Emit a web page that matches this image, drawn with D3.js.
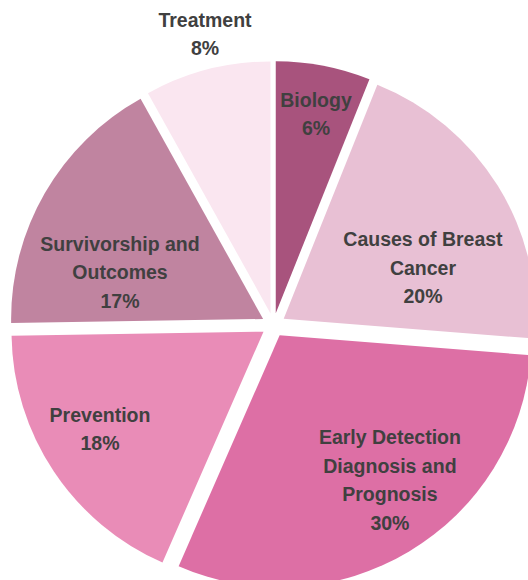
<!DOCTYPE html>
<html><head><meta charset="utf-8">
<script src="https://cdn.jsdelivr.net/npm/d3@7"></script>
<style>html,body{margin:0;padding:0;background:#fff;}svg{display:block;}</style>
</head><body>
<script>
const categories = ["Biology", "Causes of Breast Cancer", "Early Detection Diagnosis and Prognosis", "Prevention", "Survivorship and Outcomes", "Treatment"];
const values = [6, 20, 30, 18, 17, 8];
const labelLines = [["Biology"], ["Causes of Breast", "Cancer"], ["Early Detection", "Diagnosis and", "Prognosis"], ["Prevention"], ["Survivorship and", "Outcomes"], ["Treatment"]];
const colors = ["#A8537D", "#E8C0D4", "#DD6FA5", "#E98CB7", "#C084A0", "#FAE6F0"];
// label placement (polar: degrees clockwise from top, distance from centre in px)
const labelAngle = [11.4, 69.1, 143.1, 239.06, 289.05, 346.75];
const labelDist = [215.2, 160, 193.9, 202.3, 162.4, 299];

const W = 528, H = 580, cx = 273.5, cy = 325, R = 252, explode = 12;
const svg = d3.select("body").append("svg").attr("width", W).attr("height", H);
const pie = d3.pie().sort(null).value(d => d)(values);
const arc = d3.arc().innerRadius(0).outerRadius(R);
const g = svg.append("g").attr("transform", `translate(${cx},${cy})`);

g.selectAll("path").data(pie).join("path")
  .attr("d", arc)
  .attr("fill", (d, i) => colors[i])
  .attr("transform", d => {
    const a = (d.startAngle + d.endAngle) / 2;
    return `translate(${explode * Math.sin(a)},${-explode * Math.cos(a)})`;
  });

const lh = 28.5;
pie.forEach((d, i) => {
  const a = labelAngle[i] * Math.PI / 180;
  const x = labelDist[i] * Math.sin(a), y = -labelDist[i] * Math.cos(a);
  const lines = labelLines[i].concat([values[i] + "%"]);
  const t = g.append("text")
    .attr("text-anchor", "middle")
    .attr("font-family", "'Liberation Sans', Arial, sans-serif")
    .attr("font-weight", "bold")
    .attr("font-size", "19.5px")
    .attr("fill", "#404040");
  lines.forEach((l, j) => {
    t.append("tspan").attr("x", x)
      .attr("y", y + (j - (lines.length - 1) / 2) * lh + 7)
      .text(l);
  });
});
</script>
</body></html>
